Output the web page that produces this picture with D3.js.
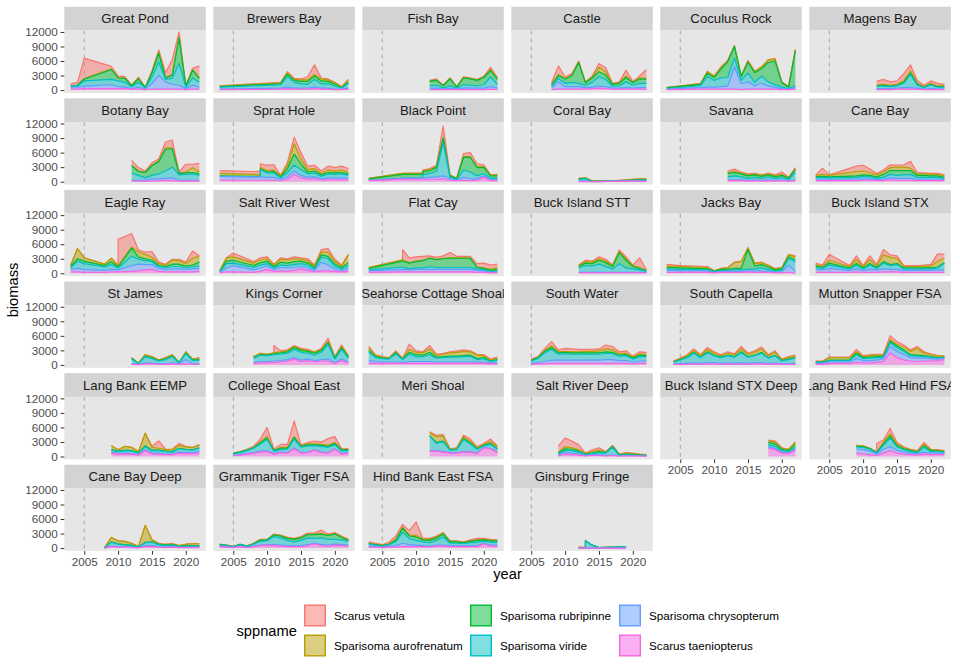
<!DOCTYPE html>
<html>
<head>
<meta charset="utf-8">
<script src="https://cdn.jsdelivr.net/npm/d3@7"></script>
<style>
  body { margin: 0; background: #fff; }
  text { font-family: "Liberation Sans", Arial, Helvetica, sans-serif; }
</style>
</head>
<body>
<div id="d3-container"></div>
<script>
/**
 * CONSTANTS AND DATA
 * */
const species = ["Scarus vetula", "Sparisoma aurofrenatum", "Sparisoma rubripinne",
  "Sparisoma viride", "Sparisoma chrysopterum", "Scarus taeniopterus"];
const speciesColors = ["#F8766D", "#B79F00", "#00BA38", "#00BFC4", "#619CFF", "#F564E3"];
// every site row is: year, then biomass from the bottom of the stack upwards
// (null = species not recorded that year)
const rowSpecies = ["Scarus taeniopterus", "Sparisoma chrysopterum", "Sparisoma viride",
  "Sparisoma rubripinne", "Sparisoma aurofrenatum", "Scarus vetula"];
const yTicks = [0, 3000, 6000, 9000, 12000];
const xTicks = [2005, 2010, 2015, 2020];
const refYear = 2005;

const siteNames = ["Great Pond", "Brewers Bay", "Fish Bay", "Castle", "Coculus Rock", "Magens Bay",
  "Botany Bay", "Sprat Hole", "Black Point", "Coral Bay", "Savana", "Cane Bay",
  "Eagle Ray", "Salt River West", "Flat Cay", "Buck Island STT", "Jacks Bay", "Buck Island STX",
  "St James", "Kings Corner", "Seahorse Cottage Shoal", "South Water", "South Capella", "Mutton Snapper FSA",
  "Lang Bank EEMP", "College Shoal East", "Meri Shoal", "Salt River Deep", "Buck Island STX Deep", "Lang Bank Red Hind FSA",
  "Cane Bay Deep", "Grammanik Tiger FSA", "Hind Bank East FSA", "Ginsburg Fringe"];

const greatPond = [[2003,200,400,200,100,0,400],[2004,200,400,200,200,0,600],[2005,300,500,1100,400,100,4200],
  [2009,300,800,1100,2000,200,500],[2010,300,400,1200,600,100,300],[2011,300,300,1000,800,100,300],
  [2012,200,100,400,200,0,100],[2013,200,400,1000,700,100,300],[2014,100,100,200,100,0,100],
  [2015,200,1200,1300,900,100,300],[2016,200,2800,2800,1800,200,500],[2017,200,1500,500,300,100,1000],
  [2018,200,1000,1200,700,100,3100],[2019,200,800,4500,5300,200,1000],[2020,100,200,300,200,0,200],
  [2021,200,800,1500,1600,100,300],[2022,200,400,1000,800,100,2500]];
const brewersBay = [[2003,100,100,400,100,100,100],[2012,200,200,700,200,200,100],[2013,300,300,2200,500,200,300],
  [2014,200,200,1200,400,200,200],[2015,200,200,900,500,300,200],[2016,200,200,800,600,300,700],
  [2017,300,300,1600,700,300,2000],[2018,200,200,900,600,400,200],[2019,200,200,900,500,300,200],
  [2020,100,100,600,400,300,100],[2021,100,100,200,100,100,100],[2022,200,200,1000,200,500,100]];
const fishBay = [[2012,100,300,500,900,100,100],[2013,100,300,600,1000,100,200],[2014,100,100,200,500,50,50],
  [2015,100,300,500,1400,100,100],[2016,100,100,200,200,50,50],[2017,100,300,700,1400,100,200],
  [2018,100,300,600,1300,100,100],[2019,100,300,500,1100,100,100],[2020,100,300,700,1500,100,200],
  [2021,200,500,2000,1300,200,500],[2022,100,300,800,1000,200,200]];
const castle = [[2008,100,300,400,300,100,300],[2009,200,1500,700,600,200,1800],[2010,200,500,700,900,100,300],
  [2011,200,500,900,1300,200,300],[2012,200,500,700,4300,100,200],[2013,200,300,500,500,100,100],
  [2014,300,300,1000,900,200,200],[2015,400,400,2000,1000,900,800],[2016,300,400,1500,900,700,800],
  [2017,200,200,400,400,100,100],[2018,200,200,500,500,100,200],[2019,200,300,1200,900,300,1200],
  [2020,200,200,600,500,100,200],[2021,200,300,900,900,200,400],[2022,200,300,900,800,200,1800]];
const coculusRock = [[2003,100,100,100,200,0,0],[2008,200,300,400,300,100,100],[2009,200,400,2200,700,300,100],
  [2010,200,400,1400,600,200,100],[2011,200,500,1800,1800,300,200],[2012,200,600,1800,3200,200,100],
  [2013,200,4600,1800,2400,100,100],[2014,100,1200,700,800,100,0],[2015,200,1500,1800,2200,300,100],
  [2016,200,700,700,2000,200,100],[2017,200,1200,1500,1500,300,100],[2018,200,600,900,4000,500,100],
  [2019,200,400,500,4900,400,100],[2020,100,200,300,900,100,100],[2021,100,100,100,300,100,0],
  [2022,200,300,400,7200,200,100]];
const magensBay = [[2012,100,200,500,100,200,700],[2013,100,200,500,200,200,1000],[2014,100,200,400,100,200,700],
  [2015,200,200,500,100,200,700],[2016,200,300,900,200,300,1500],[2017,200,300,2700,300,500,1200],
  [2018,200,200,600,200,200,600],[2019,100,100,300,100,100,300],[2020,100,200,800,100,200,500],
  [2021,100,100,400,100,200,500],[2022,100,100,400,100,300,200]];
const botanyBay = [[2012,100,200,1500,1500,100,1000],[2013,100,200,1000,800,100,700],[2014,100,200,500,1100,100,200],
  [2015,100,500,700,2000,100,500],[2016,200,400,1000,2500,200,400],[2017,200,500,1500,4500,300,1200],
  [2018,200,600,2200,3800,200,1600],[2019,100,200,1100,300,100,200],[2020,100,200,1200,300,200,1600],
  [2021,100,200,1300,300,1000,700],[2022,100,200,1000,300,400,1800]];
const spratHole = [[2003,300,800,null,100,500,600],[2008,300,700,null,100,400,600],[2009,300,700,1500,100,300,800],
  [2010,300,600,900,200,300,1100],[2011,300,600,900,300,300,1100],[2012,200,300,300,200,200,100],
  [2013,500,500,900,800,600,700],[2014,1500,700,1200,2300,2100,1400],[2015,800,500,1200,1200,1000,1300],
  [2016,500,400,700,400,500,700],[2017,600,400,800,400,500,700],[2018,300,300,500,300,300,500],
  [2019,400,400,800,300,500,800],[2020,400,400,700,300,400,700],[2021,400,400,800,300,500,800],
  [2022,300,400,600,300,400,700]];
const blackPoint = [[2003,200,100,null,300,100,0],[2008,500,200,null,800,200,0],[2011,500,300,600,700,200,100],
  [2012,500,400,800,600,200,200],[2013,500,500,1100,800,200,300],[2014,600,600,6800,1000,200,2300],
  [2015,300,300,300,300,100,100],[2016,200,100,100,200,100,0],[2017,300,600,1500,2600,200,600],
  [2018,200,400,1400,3000,200,800],[2019,300,300,600,1700,200,600],[2020,900,300,500,1200,200,400],
  [2021,200,200,300,500,100,100],[2022,200,200,300,500,200,100]];
const coralBay = [[2012,0,100,400,100,100,0],[2013,0,100,500,100,100,0],[2014,0,0,50,50,50,0],
  [2015,0,0,50,0,50,0],[2016,50,0,50,0,100,0],[2017,50,0,50,0,100,0],[2018,100,0,100,0,100,0],
  [2019,100,50,100,0,150,0],[2020,100,50,150,50,150,0],[2021,100,50,200,50,200,0],[2022,100,50,200,50,200,0]];
const savana = [[2012,200,200,600,700,200,300],[2013,200,200,800,700,200,500],[2014,200,200,600,600,200,200],
  [2015,100,200,400,500,200,200],[2016,200,200,500,500,200,100],[2017,100,200,400,400,200,100],
  [2018,200,200,600,400,200,200],[2019,100,200,300,400,200,200],[2020,200,200,500,400,200,500],
  [2021,100,100,200,300,100,100],[2022,200,200,1500,600,200,200]];
const caneBay = [[2003,200,300,300,200,300,100],[2004,200,300,400,200,400,1300],[2005,200,300,300,200,300,100],
  [2009,200,300,400,300,900,1100],[2010,300,300,500,300,800,1200],[2011,300,300,400,300,600,700],
  [2012,200,200,300,300,400,300],[2013,200,300,400,600,500,400],[2014,400,400,700,800,600,600],
  [2015,300,400,600,1000,700,400],[2016,300,400,700,900,700,500],[2017,300,400,800,800,500,1400],
  [2018,200,300,400,400,300,300],[2019,200,300,400,400,300,200],[2020,200,300,400,300,300,200],
  [2021,200,300,400,300,300,200],[2022,200,200,300,200,300,200]];
const eagleRay = [[2003,300,500,300,300,300,null],[2004,300,700,1500,500,2100,null],[2005,200,600,1200,500,700,null],
  [2008,200,400,700,300,300,null],[2009,300,500,1000,600,700,null],[2010,300,400,400,200,300,5400],
  [2012,400,1200,1900,1700,200,2800],[2013,500,1400,1000,500,1000,400],[2014,700,1100,800,400,900,500],
  [2015,800,1000,600,300,600,1200],[2016,400,600,400,200,400,300],[2017,300,500,400,200,300,150],
  [2018,300,600,500,500,800,200],[2019,300,600,500,500,700,300],[2020,300,500,400,300,500,300],
  [2021,300,600,400,400,1400,1500],[2022,400,600,500,800,1200,100]];
const saltRiverWest = [[2003,100,100,100,100,100,0],[2004,300,800,900,500,700,0],[2005,300,1300,500,600,700,800],
  [2008,200,500,500,400,500,300],[2009,400,700,600,500,600,400],[2010,800,700,500,500,500,400],
  [2011,400,400,300,300,300,150],[2012,500,700,500,600,600,300],[2013,400,700,500,500,600,300],
  [2014,600,600,600,600,600,400],[2015,900,500,600,500,400,300],[2016,600,500,500,500,500,400],
  [2017,300,300,300,300,300,200],[2018,500,1800,1000,500,600,500],[2019,500,1200,1300,500,800,800],
  [2020,400,500,600,400,600,400],[2021,300,300,300,300,300,200],[2022,400,500,700,600,1600,100]];
const flatCay = [[2003,200,300,200,300,200,null],[2008,300,500,500,1200,300,2100],[2009,300,400,200,1200,100,1000],
  [2010,300,500,300,1300,100,900],[2011,300,500,300,1500,100,800],[2012,300,500,600,1700,100,400],
  [2013,300,500,400,1600,100,400],[2014,300,500,400,1800,100,500],[2015,300,500,400,1900,100,1100],
  [2016,300,500,400,1900,100,300],[2017,300,500,400,1900,100,300],[2018,300,500,400,1900,100,300],
  [2019,200,400,300,300,100,700],[2020,200,300,200,300,100,1000],[2021,100,100,100,300,200,900],
  [2022,100,200,200,300,400,700]];
const buckIslandSTT = [[2012,100,100,900,300,200,100],[2013,100,100,1400,500,300,300],[2014,100,100,1300,500,300,200],
  [2015,100,100,1700,800,300,400],[2016,100,100,1200,800,300,400],[2017,100,100,700,500,200,100],
  [2018,100,100,1800,2200,300,300],[2019,100,100,900,1600,300,400],[2020,100,100,700,500,200,100],
  [2021,100,100,500,300,200,2000],[2022,100,100,200,100,100,100]];
const jacksBay = [[2003,200,400,300,300,300,350],[2005,200,300,300,300,300,200],[2009,200,300,200,200,300,200],
  [2010,100,100,100,100,100,0],[2011,200,200,200,200,200,0],[2012,200,200,200,200,300,100],
  [2013,200,200,300,300,1200,100],[2014,200,200,300,300,1400,100],[2015,300,200,300,4100,300,100],
  [2016,200,300,400,600,500,100],[2017,200,300,600,700,400,100],[2018,200,200,400,500,300,100],
  [2019,100,100,200,300,200,100],[2020,100,200,300,300,200,100],[2021,200,1500,1300,400,400,100],
  [2022,0,400,2000,400,600,200]];
const buckIslandSTX = [[2003,200,600,400,300,300,300],[2004,200,500,300,200,200,300],[2005,200,800,700,400,600,1200],
  [2008,200,400,300,200,300,200],[2009,300,600,800,300,800,800],[2010,200,400,300,200,300,200],
  [2011,200,600,900,300,800,800],[2012,200,500,300,200,300,350],[2013,300,600,1200,300,1400,1100],
  [2014,300,500,800,200,1500,500],[2015,300,500,1000,200,1100,500],[2016,200,400,300,200,300,200],
  [2017,200,400,300,200,300,200],[2018,200,400,300,200,300,200],[2019,200,400,300,200,400,200],
  [2020,200,400,300,200,400,350],[2021,200,500,400,200,1200,1500],[2022,200,500,1300,200,900,800]];
const stJames = [[2012,100,100,1000,100,200,0],[2013,50,50,150,50,50,0],[2014,200,200,1300,100,300,0],
  [2015,200,100,1000,100,300,0],[2016,100,100,600,100,100,0],[2017,100,100,900,100,300,0],
  [2018,200,200,1300,100,300,0],[2019,100,100,200,50,50,0],[2020,200,900,1200,100,300,0],
  [2021,100,100,700,100,200,0],[2022,100,100,800,100,300,100]];
const kingsCorner = [[2008,300,200,900,100,200,null],[2009,400,300,1300,100,300,null],[2010,400,300,1200,100,200,null],
  [2011,500,300,1300,200,200,1500],[2012,600,300,1300,300,200,200],[2013,800,300,1300,300,200,200],
  [2014,1200,300,1700,400,200,200],[2015,700,300,1600,400,200,200],[2016,900,300,1200,400,200,200],
  [2017,600,300,1100,400,200,100],[2018,800,300,1500,400,200,200],[2019,800,400,3000,400,200,700],
  [2020,300,200,700,200,200,100],[2021,900,300,2000,300,300,300],[2022,400,200,800,200,200,100]];
const seahorseCottageShoal = [[2003,300,600,1800,300,500,300],[2004,300,400,800,200,200,200],[2005,300,300,700,100,200,100],
  [2006,300,300,600,100,100,100],[2007,300,300,1700,200,200,200],[2008,300,200,600,100,100,100],
  [2009,300,400,1500,400,600,1100],[2010,300,400,1000,400,500,300],[2011,300,400,1000,300,500,200],
  [2012,300,400,1400,500,700,700],[2013,300,300,800,200,400,200],[2014,300,300,900,200,500,200],
  [2015,300,300,1000,200,700,200],[2016,300,300,1000,200,800,300],[2017,300,300,1100,200,900,300],
  [2018,300,300,1200,200,700,200],[2019,300,300,500,200,700,200],[2020,300,300,700,200,400,200],
  [2021,200,200,300,100,200,200],[2022,200,200,600,100,300,200]];
const southWater = [[2005,100,200,500,100,100,200],[2006,200,300,800,200,100,100],[2007,200,500,1800,300,200,400],
  [2008,300,700,2200,400,300,900],[2009,300,700,1200,300,200,400],[2010,300,700,1300,300,200,600],
  [2011,300,700,1200,300,200,600],[2012,300,700,1200,300,200,500],[2013,300,700,1200,300,300,400],
  [2014,300,700,1200,300,300,400],[2015,300,700,1200,300,400,400],[2016,300,800,1300,300,600,800],
  [2017,300,800,1200,300,500,700],[2018,300,600,900,200,300,400],[2019,300,600,1000,200,300,500],
  [2020,200,400,600,200,200,200],[2021,300,500,900,300,300,400],[2022,300,500,900,200,300,400]];
const southCapella = [[2004,100,100,400,50,100,50],[2005,100,100,800,100,200,100],[2006,100,200,1200,100,300,200],
  [2007,200,200,2000,200,400,300],[2008,100,200,1200,100,300,200],[2009,200,200,2100,200,500,400],
  [2010,200,200,1500,100,400,300],[2011,100,200,1200,100,300,200],[2012,200,200,1500,100,400,300],
  [2013,100,200,1300,100,400,200],[2014,200,200,2100,200,600,500],[2015,100,200,1300,100,500,200],
  [2016,200,200,1500,100,600,300],[2017,200,200,2000,200,700,400],[2018,100,200,1100,100,400,200],
  [2019,200,200,1500,100,600,300],[2020,100,100,600,100,200,100],[2021,100,100,900,100,300,200],
  [2022,100,200,1100,100,300,300]];
const muttonSnapperFSA = [[2003,100,200,200,100,100,100],[2004,100,200,200,100,100,100],[2005,300,300,300,100,500,100],
  [2008,300,300,300,100,500,100],[2009,500,800,800,300,300,500],[2010,400,500,400,200,200,200],
  [2011,400,500,500,200,300,200],[2012,500,500,500,200,300,200],[2013,700,600,300,200,200,200],
  [2014,2500,1300,800,300,300,800],[2015,1500,1300,800,300,300,600],[2016,1000,1200,600,300,600,400],
  [2017,800,700,400,200,700,300],[2018,700,700,400,200,1400,400],[2019,800,600,300,200,500,300],
  [2020,800,500,300,100,400,200],[2021,900,300,200,100,300,100],[2022,1100,200,200,100,200,0]];
const langBankEEMP = [[2009,700,200,400,100,800,0],[2010,500,100,400,100,300,0],[2011,500,200,500,100,800,0],
  [2012,500,100,500,100,700,0],[2013,300,100,300,100,200,0],[2014,1200,200,600,200,2600,0],
  [2015,500,200,500,100,600,200],[2016,500,200,500,100,400,1500],[2017,400,100,500,100,300,100],
  [2018,400,100,400,100,400,100],[2019,700,200,700,100,600,400],[2020,600,200,600,100,500,100],
  [2021,600,200,500,100,400,100],[2022,700,400,600,100,600,0]];
const collegeShoalEast = [[2005,200,100,300,50,50,0],[2006,300,100,400,100,50,50],[2007,500,100,600,100,100,100],
  [2008,700,100,900,100,100,200],[2009,900,200,1500,200,200,600],[2010,1000,200,2300,300,300,1900],
  [2011,500,100,500,100,100,200],[2012,800,100,500,300,200,600],[2013,700,100,700,200,200,600],
  [2014,1600,200,1800,300,200,3200],[2015,700,100,1100,200,100,200],[2016,800,100,1300,200,200,300],
  [2017,1300,100,800,200,200,600],[2018,800,100,1200,200,200,500],[2019,700,100,1100,200,200,1400],
  [2020,1500,100,800,300,200,1200],[2021,500,100,500,200,200,100],[2022,700,100,400,200,100,100]];
const meriShoal = [[2012,1100,100,3000,100,600,200],[2013,1100,100,1500,200,1200,300],[2014,900,100,2000,200,1000,300],
  [2015,700,100,500,100,100,100],[2016,700,100,600,100,200,100],[2017,900,100,2500,200,400,300],
  [2018,900,100,1600,200,300,500],[2019,600,100,800,100,200,200],[2020,1800,100,300,100,200,200],
  [2021,1600,100,800,200,400,500],[2022,800,100,600,100,400,200]];
const saltRiverDeep = [[2009,100,200,200,200,200,1300],[2010,500,400,400,300,400,1800],[2011,400,300,500,300,300,1400],
  [2012,300,300,300,200,300,1000],[2013,100,100,200,100,100,100],[2014,200,200,200,100,300,400],
  [2015,200,200,400,200,300,500],[2016,100,100,500,100,100,100],[2017,200,100,1600,200,100,100],
  [2018,100,50,100,100,100,50],[2019,100,100,200,100,200,100],[2020,100,100,100,100,200,100],
  [2021,100,50,100,100,100,50],[2022,50,50,100,50,100,50]];
const buckIslandSTXDeep = [[2018,1700,300,400,500,300,200],[2019,1400,300,400,500,400,200],[2020,700,200,300,300,200,100],
  [2021,600,200,200,200,200,100],[2022,1300,200,400,600,400,100]];
const langBankRedHindFSA = [[2009,700,900,400,100,200,null],[2010,500,900,500,100,200,null],[2011,400,700,400,100,100,null],
  [2012,200,300,200,100,100,1800],[2013,700,800,800,300,300,500],[2014,1200,800,1800,400,500,1100],
  [2015,700,600,700,200,300,400],[2016,500,400,500,200,200,200],[2017,400,300,300,200,200,100],
  [2018,300,300,200,100,200,100],[2019,500,400,1000,300,300,400],[2020,400,300,300,200,200,100],
  [2021,400,300,300,100,200,100],[2022,400,300,200,100,100,100]];
const caneBayDeep = [[2008,0,0,50,0,50,0],[2009,300,100,800,100,900,0],[2010,200,100,500,100,600,0],
  [2011,200,100,300,100,700,0],[2012,100,100,300,100,400,0],[2013,50,50,100,50,50,0],
  [2014,300,200,600,100,3500,0],[2015,300,200,700,100,400,0],[2016,200,100,400,100,100,100],
  [2017,100,100,300,100,100,100],[2018,200,100,300,100,200,100],[2019,100,50,150,50,150,0],
  [2020,100,50,250,100,300,0],[2021,100,100,200,100,400,0],[2022,100,100,200,100,400,0]];
const grammanikTigerFSA = [[2003,300,100,200,100,50,50],[2004,200,100,200,50,50,0],[2005,100,50,100,50,0,0],
  [2006,300,100,300,100,0,0],[2007,100,50,200,50,0,0],[2008,300,100,400,100,50,50],
  [2009,500,100,800,200,100,100],[2010,600,100,800,200,50,50],[2011,500,200,1700,300,100,100],
  [2012,400,200,1500,400,100,100],[2013,300,200,1100,400,100,100],[2014,300,200,800,500,100,100],
  [2015,300,200,1100,500,100,200],[2016,500,200,1400,700,100,200],[2017,900,200,900,800,100,200],
  [2018,500,200,1400,800,100,700],[2019,400,200,1200,800,100,200],[2020,600,200,1000,1100,100,200],
  [2021,500,200,1000,500,100,200],[2022,400,200,800,200,100,100]];
const hindBankEastFSA = [[2003,200,200,400,100,100,300],[2004,200,100,300,100,100,200],[2005,100,100,200,100,100,100],
  [2006,200,200,300,100,100,300],[2007,200,300,800,300,200,700],[2008,300,700,2300,800,200,600],
  [2009,300,400,1200,600,200,900],[2010,300,300,1000,700,300,2800],[2011,300,200,800,400,200,100],
  [2012,200,200,700,500,200,200],[2013,400,200,1000,500,200,200],[2014,400,200,1700,600,200,100],
  [2015,300,200,500,300,100,100],[2016,300,200,500,300,100,100],[2017,300,200,400,200,100,100],
  [2018,300,200,600,300,100,200],[2019,300,200,700,400,100,300],[2020,900,100,400,300,100,200],
  [2021,400,200,600,300,100,200],[2022,400,200,600,300,100,100]];
const ginsburgFringe = [[2012,null,null,null,null,200,null],[2013,null,null,1500,null,100,null],
  [2014,null,null,600,null,null,null],[2015,null,null,100,null,null,null],[2016,null,null,150,null,null,null],
  [2017,null,null,200,null,null,null],[2018,null,null,250,null,null,null],[2019,null,null,300,null,null,null]];

const siteRows = [greatPond, brewersBay, fishBay, castle, coculusRock, magensBay,
  botanyBay, spratHole, blackPoint, coralBay, savana, caneBay,
  eagleRay, saltRiverWest, flatCay, buckIslandSTT, jacksBay, buckIslandSTX,
  stJames, kingsCorner, seahorseCottageShoal, southWater, southCapella, muttonSnapperFSA,
  langBankEEMP, collegeShoalEast, meriShoal, saltRiverDeep, buckIslandSTXDeep, langBankRedHindFSA,
  caneBayDeep, grammanikTigerFSA, hindBankEastFSA, ginsburgFringe];

/**
 * LAYOUT
 * */
const width = 960, height = 672;
const nCol = 6;
const panelW = 141.5, panelH = 62.5, stripH = 23.8;
const colX = c => 64.3 + c * 149;
const rowY = r => 6.7 + r * 91.6;

const color = d3.scaleOrdinal().domain(species).range(speciesColors);
const x = d3.scaleLinear().domain([2002.05, 2022.95]).range([0, panelW]);
const y = d3.scaleLinear().domain([-600, 12300]).range([panelH, 0]);

const stack = d3.stack().keys(rowSpecies);
const area = d3.area()
  .x(d => x(d.data.year))
  .y0(d => y(d[0]))
  .y1(d => y(d[1]));
const line = d3.line()
  .x(d => x(d.data.year))
  .y(d => y(d[1]));

// align every species on a common set of years, like ggplot's stat_align:
// inside its own range a species is interpolated, outside it drops to zero
function alignRows(rows) {
  const years = rows.map(r => r[0]);
  const first = years[0], last = years[years.length - 1];
  const eps = 0.002;
  const grid = new Set(years);
  const fns = rowSpecies.map((s, k) => {
    const pts = rows.filter(r => r[k + 1] !== null);
    if (!pts.length) return () => 0;
    const lo = pts[0][0], hi = pts[pts.length - 1][0];
    if (lo > first) grid.add(lo - eps);
    if (hi < last) grid.add(hi + eps);
    const f = pts.length > 1
      ? d3.scaleLinear().domain(pts.map(p => p[0])).range(pts.map(p => p[k + 1]))
      : () => pts[0][k + 1];
    return t => (t < lo || t > hi) ? 0 : f(t);
  });
  return Array.from(grid).sort((a, b) => a - b).map(t => {
    const o = { year: t };
    rowSpecies.forEach((s, k) => o[s] = fns[k](t));
    return o;
  });
}

const svg = d3.select("#d3-container")
  .append("svg")
  .attr("width", width)
  .attr("height", height);

function styleAxis(ax) {
  ax.select(".domain").remove();
  ax.selectAll("line").attr("stroke", "#333333");
  ax.selectAll("text").attr("fill", "#4D4D4D").attr("font-size", "11.7px")
    .attr("font-family", null);
}

siteNames.forEach((name, i) => {
  const c = i % nCol, r = Math.floor(i / nCol);
  const g = svg.append("g").attr("transform", `translate(${colX(c)},${rowY(r)})`);

  // strip
  g.append("clipPath").attr("id", "strip" + i)
    .append("rect").attr("width", panelW).attr("height", stripH);
  g.append("rect").attr("width", panelW).attr("height", stripH).attr("fill", "#D3D3D3");
  g.append("text")
    .attr("clip-path", `url(#strip${i})`)
    .attr("x", panelW / 2).attr("y", stripH / 2).attr("dy", "0.36em")
    .attr("text-anchor", "middle")
    .attr("font-size", "13.2px").attr("fill", "#1A1A1A")
    .text(name);

  // panel
  const p = g.append("g").attr("transform", `translate(0,${stripH})`);
  p.append("clipPath").attr("id", "panel" + i)
    .append("rect").attr("width", panelW).attr("height", panelH);
  p.append("rect").attr("width", panelW).attr("height", panelH).attr("fill", "#E6E6E6");

  const plot = p.append("g").attr("clip-path", `url(#panel${i})`);
  plot.append("line")
    .attr("x1", x(refYear)).attr("x2", x(refYear))
    .attr("y1", 0).attr("y2", panelH)
    .attr("stroke", "#A6A6A6").attr("stroke-width", 1)
    .attr("stroke-dasharray", "4,4");

  // ggplot draws the first factor level (top of the stack) first
  const series = stack(alignRows(siteRows[i])).reverse();
  series.forEach(s => {
    plot.append("path").datum(s)
      .attr("d", area)
      .attr("fill", color(s.key)).attr("fill-opacity", 0.5);
    plot.append("path").datum(s)
      .attr("d", line)
      .attr("fill", "none")
      .attr("stroke", color(s.key)).attr("stroke-width", 1.2)
      .attr("stroke-linejoin", "round");
  });

  // y axis on the first column
  if (c === 0) {
    p.append("g")
      .call(d3.axisLeft(y).tickValues(yTicks).tickFormat(d3.format("d")).tickSize(3.7).tickPadding(2.9))
      .call(styleAxis);
  }
  // x axis under the last panel of each column
  if (i + nCol >= siteNames.length) {
    p.append("g").attr("transform", `translate(0,${panelH})`)
      .call(d3.axisBottom(x).tickValues(xTicks).tickFormat(d3.format("d")).tickSize(3.7).tickPadding(2.9))
      .call(styleAxis);
  }
});

// axis titles
svg.append("text")
  .attr("transform", "translate(13,290) rotate(-90)")
  .attr("text-anchor", "middle").attr("dy", "0.36em")
  .attr("font-size", "14.7px").attr("fill", "#000")
  .text("biomass");
svg.append("text")
  .attr("x", colX(0) + (colX(nCol - 1) + panelW - colX(0)) / 2).attr("y", 574)
  .attr("text-anchor", "middle").attr("dy", "0.36em")
  .attr("font-size", "14.7px").attr("fill", "#000")
  .text("year");

// legend
const legend = svg.append("g");
legend.append("text")
  .attr("x", 236.5).attr("y", 631).attr("dy", "0.36em")
  .attr("font-size", "14.7px").attr("fill", "#000")
  .text("sppname");
const keyX = [304, 470, 619], keyY = [604.5, 634.5], keySize = 22;
species.forEach((s, k) => {
  const kx = keyX[Math.floor(k / 2)], ky = keyY[k % 2];
  legend.append("rect")
    .attr("x", kx + 0.7).attr("y", ky + 0.7)
    .attr("width", keySize - 1.4).attr("height", keySize - 1.4)
    .attr("fill", color(s)).attr("fill-opacity", 0.5)
    .attr("stroke", color(s)).attr("stroke-width", 1.4);
  legend.append("text")
    .attr("x", kx + 30).attr("y", ky + keySize / 2).attr("dy", "0.36em")
    .attr("font-size", "11.7px").attr("fill", "#000")
    .text(s);
});
</script>
</body>
</html>
